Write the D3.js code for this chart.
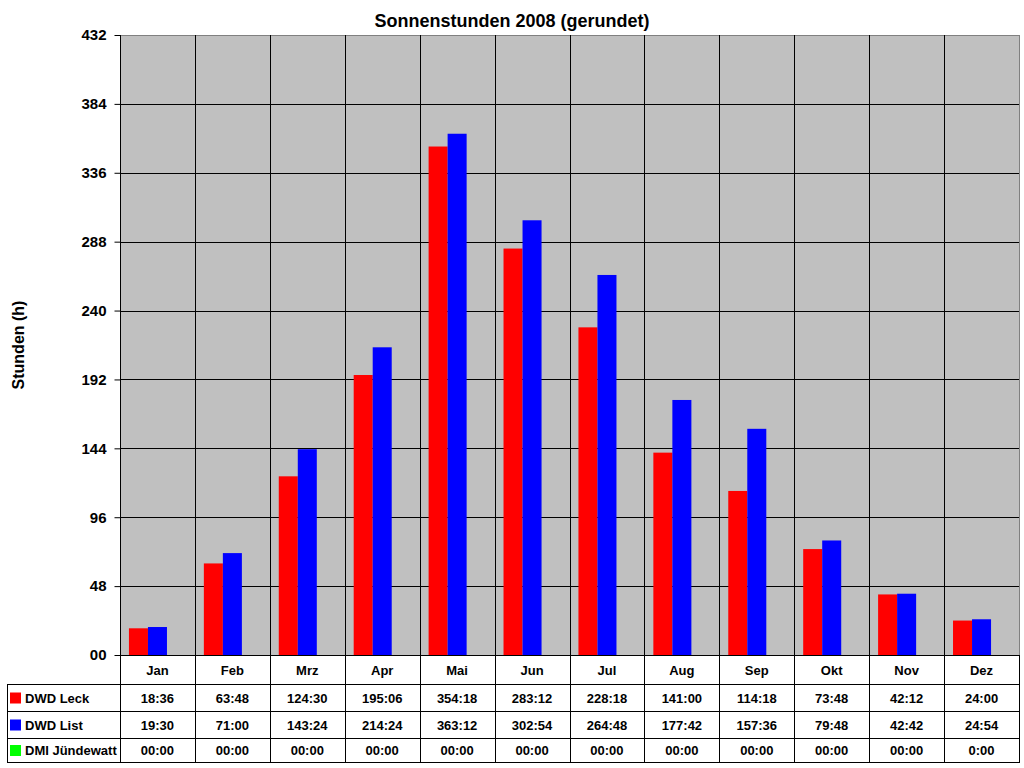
<!DOCTYPE html>
<html>
<head>
<meta charset="utf-8">
<script src="https://cdn.jsdelivr.net/npm/d3@7"></script>
<style>
  body { margin: 0; background: #fff; }
  svg { font-family: Arial, "Liberation Sans", sans-serif; font-weight: bold; }
</style>
</head>
<body>
<div id="chart"></div>
<script>
const months = ['Jan', 'Feb', 'Mrz', 'Apr', 'Mai', 'Jun', 'Jul', 'Aug', 'Sep', 'Okt', 'Nov', 'Dez']
const seriesNames = ['DWD Leck', 'DWD List', 'DMI Jündewatt']
const seriesColors = ['#ff0000', '#0000ff', '#00ff00']
const leck = ['18:36', '63:48', '124:30', '195:06', '354:18', '283:12', '228:18', '141:00', '114:18', '73:48', '42:12', '24:00']
const list = ['19:30', '71:00', '143:24', '214:24', '363:12', '302:54', '264:48', '177:42', '157:36', '79:48', '42:42', '24:54']
const juendewatt = ['00:00', '00:00', '00:00', '00:00', '00:00', '00:00', '00:00', '00:00', '00:00', '00:00', '00:00', '0:00']
const yTicks = [0, 48, 96, 144, 192, 240, 288, 336, 384, 432]
const tickLabels = ['00', '48', '96', '144', '192', '240', '288', '336', '384', '432']

const allSeries = [leck, list, juendewatt]
const toHours = s => {
  const [h, m] = s.split(':').map(Number)
  return h + m / 60
}

const width = 1024
const height = 768
const plotLeft = 120
const plotRight = 1019
const plotTop = 35
const plotBottom = 655
const tableLeft = 7
const rowLines = [684, 711, 738, 762]

const svg = d3.select('#chart').append('svg')
  .attr('width', width)
  .attr('height', height)

const x = d3.scaleBand().domain(months).range([plotLeft, plotRight]).paddingInner(0).paddingOuter(0)
const xs = d3.scaleBand().domain(d3.range(3)).range([0, x.bandwidth()]).paddingInner(0).paddingOuter(0.47)
const y = d3.scaleLinear().domain([0, 432]).range([plotBottom, plotTop])

// plot background
svg.append('rect')
  .attr('x', plotLeft + 0.5).attr('y', plotTop + 0.5)
  .attr('width', plotRight - plotLeft).attr('height', plotBottom - plotTop)
  .attr('fill', '#c0c0c0')
  .attr('stroke', '#808080')

// horizontal grid
svg.append('g')
  .selectAll('line')
  .data(yTicks.filter(d => d > 0 && d < 432))
  .join('line')
  .attr('x1', plotLeft).attr('x2', plotRight)
  .attr('y1', d => Math.round(y(d)) + 0.5).attr('y2', d => Math.round(y(d)) + 0.5)
  .attr('stroke', '#000')

// vertical grid between categories (extends through the table)
svg.append('g')
  .selectAll('line')
  .data(months.slice(1))
  .join('line')
  .attr('x1', d => Math.round(x(d)) + 0.5).attr('x2', d => Math.round(x(d)) + 0.5)
  .attr('y1', plotTop).attr('y2', rowLines[3])
  .attr('stroke', '#000')

// bars
const bars = svg.append('g')
months.forEach((m, i) => {
  allSeries.forEach((s, k) => {
    const v = toHours(s[i])
    bars.append('rect')
      .attr('x', x(m) + xs(k))
      .attr('y', y(v))
      .attr('width', xs.bandwidth())
      .attr('height', plotBottom - y(v))
      .attr('fill', seriesColors[k])
  })
})

// y axis
const yAxis = d3.axisLeft(y)
  .tickValues(yTicks)
  .tickFormat((d, i) => tickLabels[i])
  .tickSize(6)
  .tickPadding(8)
const ya = svg.append('g')
  .attr('transform', `translate(${plotLeft + 0.5},0)`)
  .call(yAxis)
ya.select('.domain').remove()
ya.selectAll('.tick line').attr('stroke', '#000')
ya.selectAll('.tick text')
  .attr('font-size', 15)
  .attr('font-weight', 'bold')
  .attr('font-family', 'Arial, "Liberation Sans", sans-serif')
  .attr('fill', '#000')

// axis line (extends through the table)
svg.append('line')
  .attr('x1', plotLeft + 0.5).attr('x2', plotLeft + 0.5)
  .attr('y1', plotTop).attr('y2', rowLines[3])
  .attr('stroke', '#000')
svg.append('line')
  .attr('x1', plotRight + 0.5).attr('x2', plotRight + 0.5)
  .attr('y1', plotBottom).attr('y2', rowLines[3])
  .attr('stroke', '#000')
svg.append('line')
  .attr('x1', plotLeft).attr('x2', plotRight + 1)
  .attr('y1', plotBottom + 0.5).attr('y2', plotBottom + 0.5)
  .attr('stroke', '#000')

// table horizontal lines
rowLines.forEach(ry => {
  svg.append('line')
    .attr('x1', tableLeft).attr('x2', plotRight + 1)
    .attr('y1', ry + 0.5).attr('y2', ry + 0.5)
    .attr('stroke', '#000')
})
svg.append('line')
  .attr('x1', tableLeft + 0.5).attr('x2', tableLeft + 0.5)
  .attr('y1', rowLines[0]).attr('y2', rowLines[3])
  .attr('stroke', '#000')

// month labels
svg.append('g')
  .selectAll('text')
  .data(months)
  .join('text')
  .attr('x', d => x(d) + x.bandwidth() / 2)
  .attr('y', 675)
  .attr('text-anchor', 'middle')
  .attr('font-size', 13)
  .text(d => d)

// table rows
allSeries.forEach((s, k) => {
  const rowMid = (rowLines[k] + rowLines[k + 1]) / 2
  svg.append('rect')
    .attr('x', 10).attr('y', rowMid - 5)
    .attr('width', 11).attr('height', 11)
    .attr('fill', seriesColors[k])
  svg.append('text')
    .attr('x', 25).attr('y', rowMid + 5)
    .attr('font-size', 13)
    .text(seriesNames[k])
  svg.append('g')
    .selectAll('text')
    .data(s)
    .join('text')
    .attr('x', (d, i) => x(months[i]) + x.bandwidth() / 2)
    .attr('y', rowMid + 5)
    .attr('text-anchor', 'middle')
    .attr('font-size', 13)
    .text(d => d)
})

// title
svg.append('text')
  .attr('x', 512)
  .attr('y', 27)
  .attr('text-anchor', 'middle')
  .attr('font-size', 18)
  .text('Sonnenstunden 2008 (gerundet)')

// y label
svg.append('text')
  .attr('transform', `translate(24,345) rotate(-90)`)
  .attr('text-anchor', 'middle')
  .attr('font-size', 16)
  .text('Stunden (h)')
</script>
</body>
</html>
